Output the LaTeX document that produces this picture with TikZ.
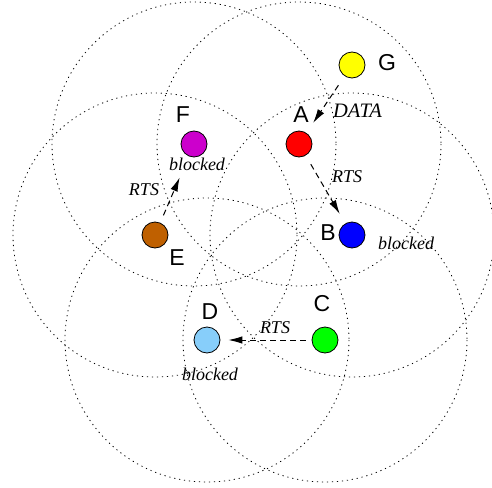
\documentclass[tikz,border=0pt]{standalone}
\usepackage{fontspec}
\setmainfont{Liberation Serif}
\newfontfamily\letterfont{Liberation Sans}
\usetikzlibrary{arrows.meta}

\begin{document}
\begin{tikzpicture}[x=1pt,y=-1pt,
  station/.style={circle, draw=black, line width=0.8pt, minimum size=26pt, inner sep=0pt},
  coverage/.style={draw=black, line width=0.8pt, dash pattern=on 1.2pt off 3.8pt},
  stname/.style={font=\letterfont\fontsize{23}{23}\selectfont, inner sep=0pt},
  tag/.style={font=\itshape\fontsize{18}{18}\selectfont, inner sep=0pt},
  msg/.style={-{Latex[length=14pt,width=7.5pt]}, line width=1pt, dash pattern=on 6pt off 4pt}
]
\useasboundingbox (0,0) rectangle (492,487);

% station positions
\coordinate (pA) at (299,144);
\coordinate (pB) at (352,235);
\coordinate (pC) at (325,340);
\coordinate (pD) at (207,340);
\coordinate (pE) at (155,235);
\coordinate (pF) at (194,144);
\coordinate (pG) at (352,65);

% transmission ranges
\foreach \s in {A,B,C,D,E,F}
  \draw[coverage] (p\s) circle[radius=142];

% stations
\definecolor{cA}{RGB}{255,0,0}
\definecolor{cB}{RGB}{0,0,255}
\definecolor{cC}{RGB}{0,255,0}
\definecolor{cD}{RGB}{135,206,250}
\definecolor{cE}{RGB}{191,96,0}
\definecolor{cF}{RGB}{204,0,204}
\definecolor{cG}{RGB}{255,255,0}
\node[station, fill=cA] (A) at (pA) {};
\node[station, fill=cB] (B) at (pB) {};
\node[station, fill=cC] (C) at (pC) {};
\node[station, fill=cD] (D) at (pD) {};
\node[station, fill=cE] (E) at (pE) {};
\node[station, fill=cF] (F) at (pF) {};
\node[station, fill=cG] (G) at (pG) {};

% station names
\node[stname] (lA) at (301,115) {A};
\node[stname] (lB) at (328,233) {B};
\node[stname] (lC) at (322,304) {C};
\node[stname] (lD) at (210,312) {D};
\node[stname] (lE) at (177,258) {E};
\node[stname] (lF) at (183,115) {F};
\node[stname] (lG) at (387,63) {G};

% frames in flight
\draw[msg, shorten <=11pt, shorten >=12pt] (G) -- (A);
\draw[msg, shorten <=10pt, shorten >=11pt] (A) -- (B);
\draw[msg, shorten <=8pt, shorten >=23pt] (E) -- (F);
\draw[msg, shorten <=6pt, shorten >=8pt] (C) -- (D);

\node[tag, font=\itshape\fontsize{20.5}{20.5}\selectfont] (tData) at (357.5,111) {DATA};
\node[tag] (tRab) at (347,177) {RTS};
\node[tag] (tRef) at (144,190) {RTS};
\node[tag] (tRcd) at (275,328) {RTS};
\node[tag] (bF) at (197,164) {blocked};
\node[tag] (bB) at (406,243) {blocked};
\node[tag] (bD) at (210,374) {blocked};
\end{tikzpicture}
\end{document}
